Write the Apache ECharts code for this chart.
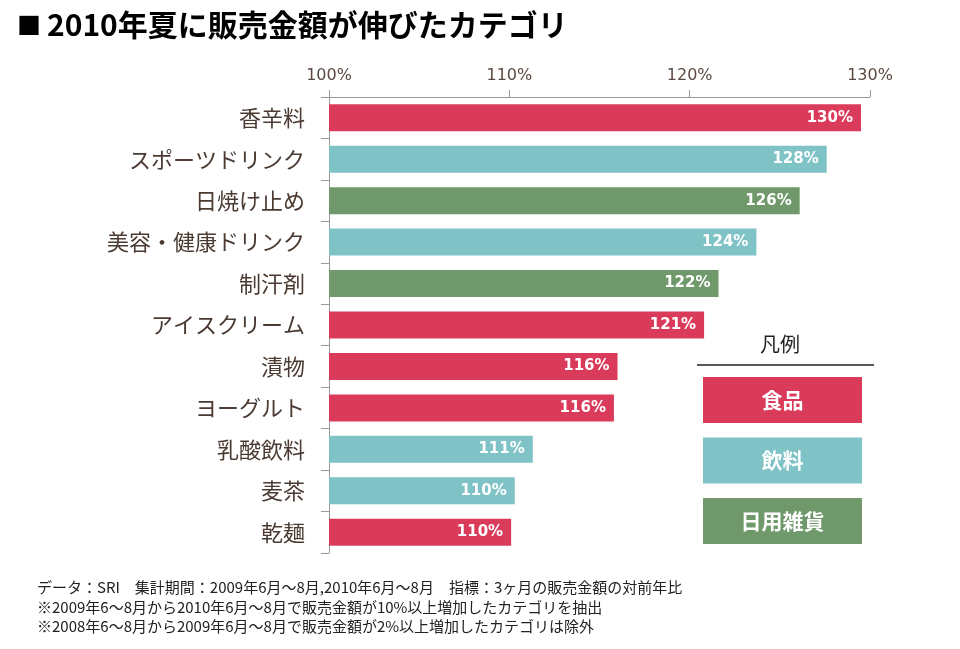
<!DOCTYPE html>
<html>
<head>
    <meta charset="utf-8">
    <script src="https://cdn.jsdelivr.net/npm/echarts@6/dist/echarts.min.js"></script>
    <style>
        body{
            margin:0;
            padding:0;
            background:#fff;
        }
    </style>
</head>
<body>
<div id="main" style="width:960px;height:649px;"></div>
<script type="text/javascript">
var myChart = echarts.init(document.getElementById('main'));

// カテゴリ（上から順）
let categories = ['香辛料','スポーツドリンク','日焼け止め','美容・健康ドリンク','制汗剤','アイスクリーム','漬物','ヨーグルト','乳酸飲料','麦茶','乾麺'];
// 対前年比（%）
let values = [129.5, 127.6, 126.1, 123.7, 121.6, 120.8, 116.0, 115.8, 111.3, 110.3, 110.1];
// 表示ラベル
let labels = ['130%','128%','126%','124%','122%','121%','116%','116%','111%','110%','110%'];
// 種別
let groups = ['食品','飲料','日用雑貨','飲料','日用雑貨','食品','食品','食品','飲料','飲料','食品'];
let legendNames = ['食品','飲料','日用雑貨'];
let colors = {'食品':'#DB3B5B','飲料':'#80C3C7','日用雑貨':'#6F996B'};

let font = '"Noto Sans CJK JP", sans-serif';
let numFont = '"DejaVu Sans", sans-serif';

let data = values.map(function (v, i) {
  return { value: v, itemStyle: { color: colors[groups[i]] }, label: { formatter: labels[i] } };
});

// 凡例（手書き）
let legendGraphic = [
  { type: 'text', left: 760, top: 334, style: { text: '凡例', font: '20px ' + font, fill: '#222' } },
  { type: 'line', shape: { x1: 697, y1: 365, x2: 874, y2: 365 }, style: { stroke: '#222', lineWidth: 1.5 } }
];
legendNames.forEach(function (name, i) {
  let y = 377 + i * 60.5;
  legendGraphic.push({
    type: 'rect', shape: { x: 703, y: y, width: 159, height: 46 },
    style: { fill: colors[name] }
  });
  legendGraphic.push({
    type: 'text', x: 782.5, y: y + 23,
    style: { text: name, font: 'bold 21px ' + font, fill: '#fff', align: 'center', verticalAlign: 'middle' }
  });
});

let notes = [
  'データ：SRI　集計期間：2009年6月～8月,2010年6月～8月　指標：3ヶ月の販売金額の対前年比',
  '※2009年6～8月から2010年6月～8月で販売金額が10%以上増加したカテゴリを抽出',
  '※2008年6～8月から2009年6月～8月で販売金額が2%以上増加したカテゴリは除外'
];
notes.forEach(function (t, i) {
  legendGraphic.push({
    type: 'text', left: 37, top: 580 + i * 19.5,
    style: { text: t, font: '15px ' + font, fill: '#222' }
  });
});

option = {
  title: {
    text: '{sq|■}{t|2010年夏に販売金額が伸びたカテゴリ}',
    left: 12,
    top: 5,
    textStyle: {
      rich: {
        sq: { fontFamily: font, fontSize: 24, color: '#000', padding: [0, 6, 0, 0] },
        t: { fontFamily: font, fontSize: 30, fontWeight: 'bold', color: '#000' }
      }
    }
  },
  grid: {
    left: 329,
    right: 90,
    top: 97,
    bottom: 96
  },
  xAxis: {
    type: 'value',
    position: 'top',
    min: 100,
    max: 130,
    interval: 10,
    splitLine: { show: false },
    axisLine: { show: true, lineStyle: { color: '#999' } },
    axisTick: { show: true, length: 7, lineStyle: { color: '#999' } },
    axisLabel: {
      formatter: '{value}%',
      fontFamily: numFont,
      fontSize: 16,
      color: '#5a4a42',
      margin: 13
    }
  },
  yAxis: {
    type: 'category',
    inverse: true,
    data: categories,
    axisLine: { show: true, lineStyle: { color: '#999' } },
    axisTick: { show: true, length: 8, lineStyle: { color: '#999' } },
    axisLabel: {
      fontFamily: font,
      fontSize: 22,
      color: '#4a3a32',
      margin: 24
    }
  },
  series: [
    {
      type: 'bar',
      barWidth: 27,
      data: data,
      label: {
        show: true,
        position: 'insideRight',
        distance: 8,
        color: '#fff',
        fontFamily: numFont,
        fontSize: 15,
        fontWeight: 'bold'
      }
    }
  ],
  graphic: legendGraphic
};

myChart.setOption(option);
</script>
</body>
</html>
